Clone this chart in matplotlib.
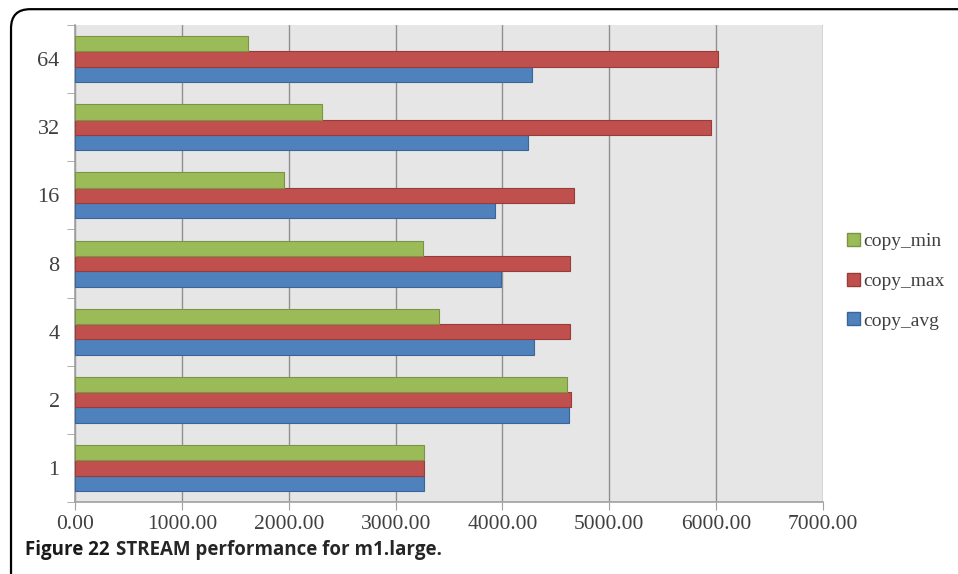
import numpy as np
import matplotlib
matplotlib.use('Agg')
import matplotlib.pyplot as plt
from matplotlib.patches import Patch, FancyBboxPatch

# values (MB/s)
threads = ['1', '2', '4', '8', '16', '32', '64']
copy_avg = [3262, 4624, 4291, 3985, 3926, 4235, 4278]
copy_max = [3262, 4643, 4631, 4631, 4671, 5956, 6021]
copy_min = [3262, 4606, 3402, 3252, 1958, 2311, 1615]
xticks = [0, 1000, 2000, 3000, 4000, 5000, 6000, 7000]

green = '#9bbb59'
red = '#c0504d'
blue = '#4f81bd'

fig = plt.figure(figsize=(9.58, 5.74), dpi=100)
ax = fig.add_axes([0.0783, 0.1254, 0.7808, 0.831])

y = np.arange(len(threads))
h = 0.225
ax.barh(y - h, copy_avg, height=h, color=blue, edgecolor='#3a6598', linewidth=0.8, zorder=3)
ax.barh(y, copy_max, height=h, color=red, edgecolor='#963c3a', linewidth=0.8, zorder=3)
ax.barh(y + h, copy_min, height=h, color=green, edgecolor='#7a9444', linewidth=0.8, zorder=3)

ax.set_facecolor('#e6e6e6')
ax.set_xlim(0, 7000)
ax.set_ylim(-0.5, len(threads) - 0.5)
ax.set_xticks(xticks)
ax.set_xticklabels(['%.2f' % v for v in xticks], family='Liberation Serif', fontsize=15.5, color='#404040')
ax.set_yticks(y)
ax.set_yticklabels(threads, family='Liberation Serif', fontsize=16, color='#404040')
ax.set_yticks(np.arange(len(threads) + 1) - 0.5, minor=True)
ax.tick_params(axis='y', which='major', length=0, pad=11)
ax.tick_params(axis='y', which='minor', length=6, color='#a0a0a0', direction='out')
ax.tick_params(axis='x', length=6, color='#a0a0a0', direction='out', pad=3)
ax.grid(axis='x', color='#909090', linewidth=1, zorder=0)
for s in ['top', 'right']:
    ax.spines[s].set_visible(False)
for s in ['left', 'bottom']:
    ax.spines[s].set_color('#a0a0a0')
    ax.spines[s].set_linewidth(1.2)

handles = [Patch(facecolor=green, edgecolor='#7a9444'),
           Patch(facecolor=red, edgecolor='#963c3a'),
           Patch(facecolor=blue, edgecolor='#3a6598')]
leg = fig.legend(handles, ['copy_min', 'copy_max', 'copy_avg'], loc='center left',
                 bbox_to_anchor=(0.866, 0.51), frameon=False, handlelength=0.65,
                 handleheight=0.65, handletextpad=0.2, labelspacing=1.15,
                 prop={'family': 'Liberation Serif', 'size': 14})
for t in leg.get_texts():
    t.set_color('#404040')

# caption: bold figure number followed by the title
cap1 = fig.text(0.026, 0.033, 'Figure 22', family='Open Sans', weight='bold', fontsize=13.5, color='#1a1a1a')
fig.canvas.draw()
bb = cap1.get_window_extent()
x2 = (bb.x1 + 6) / fig.bbox.width
fig.text(x2, 0.033, 'STREAM performance for m1.large.', family='Open Sans', weight='bold',
         fontsize=13.5, color='#262626')

# rounded frame
frame = FancyBboxPatch((0.0115, -0.05), 1.05, 1.034, boxstyle='round,pad=0,rounding_size=0.02',
                       transform=fig.transFigure, facecolor='none', edgecolor='black',
                       linewidth=1.6, mutation_aspect=958 / 574)
fig.patches.append(frame)

fig.savefig('out.png', dpi=100)
